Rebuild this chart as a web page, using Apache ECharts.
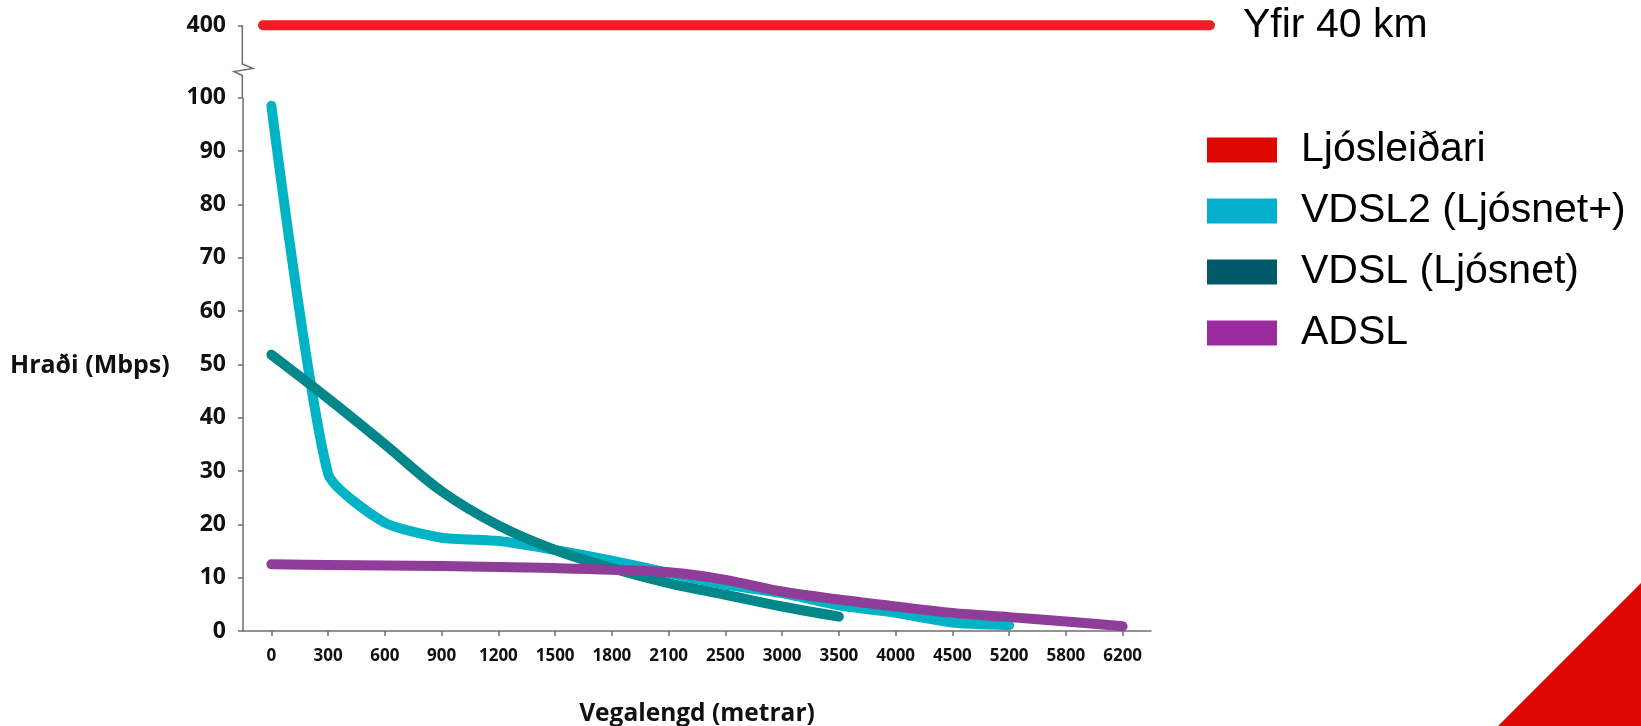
<!DOCTYPE html>
<html>
<head>
<meta charset="utf-8">
<script src="https://cdn.jsdelivr.net/npm/echarts@6/dist/echarts.min.js"></script>
<style>
  html, body { margin: 0; padding: 0; background: #ffffff; }
  #chart { width: 1641px; height: 726px; }
</style>
</head>
<body>
<div id="chart"></div>
<script>
// ---- data ----
const distances = ['0', '300', '600', '900', '1200', '1500', '1800', '2100', '2500', '3000', '3500', '4000', '4500', '5200', '5800', '6200'];
const vdsl2Speed = [98.5, 29.5, 20.3, 17.5, 16.9, 15.2, 13.2, 10.9, 8.7, 7.1, 4.8, 3.4, 1.6, 1.1, null, null];
const vdslSpeed = [51.8, 43.6, 35.0, 26.2, 19.8, 15.2, 11.8, 9.0, 6.8, 4.6, 2.7, null, null, null, null, null];
const adslSpeed = [12.5, 12.4, 12.3, 12.2, 12.0, 11.8, 11.5, 11.0, 9.6, 7.4, 5.9, 4.6, 3.4, 2.6, 1.8, 0.9];
const fiberSpeed = 400;
const fiberReachKm = [0, 40];
const seriesNames = ['Ljósleiðari', 'VDSL2 (Ljósnet+)', 'VDSL (Ljósnet)', 'ADSL'];
const fiberLabel = 'Yfir 40 km';
const yTickBreak = [100, 400];

const legendColors = ['#dd0600', '#03afca', '#005a6a', '#9b2a9f'];
const lineColors = ['#ee1c25', '#00b4c5', '#00878a', '#8e3d98'];
const smoothness = [0, 0.2, 0.35, 0.35];

const chart = echarts.init(document.getElementById('chart'), null, { renderer: 'canvas' });

const axisGray = '#6f6f6f';
const tickFont = 'Open Sans';

function speedAxis(gridIndex, visible) {
  return {
    type: 'value',
    gridIndex: gridIndex,
    show: visible,
    min: 0,
    max: 400,
    interval: 10,
    breaks: [{ start: yTickBreak[0], end: yTickBreak[1], gap: 13.6 }],
    breakArea: { show: false },
    axisLine: { show: true, onZero: false, lineStyle: { color: axisGray, width: 1.5 } },
    axisTick: { show: true, length: 5, lineStyle: { color: axisGray, width: 1.5 } },
    axisLabel: { fontFamily: tickFont, fontWeight: 'bold', fontSize: 23, color: '#111', margin: 17 },
    splitLine: { show: false }
  };
}

function lineSeries(name, data, idx) {
  return {
    name: name,
    type: 'line',
    data: data,
    xAxisIndex: 0,
    yAxisIndex: 0,
    smooth: smoothness[idx],
    showSymbol: false,
    symbol: 'none',
    connectNulls: false,
    itemStyle: { color: legendColors[idx] },
    lineStyle: { color: lineColors[idx], width: 10, cap: 'round', join: 'round' },
    z: 3 + idx
  };
}

const option = {
  animation: false,
  backgroundColor: '#ffffff',
  grid: [
    { left: 243, right: 490, top: 25.3, bottom: 95, containLabel: false, outerBoundsMode: 'none' },
    { left: 243, right: 431, top: 25.3, bottom: 95, containLabel: false, outerBoundsMode: 'none' }
  ],
  xAxis: [
    {
      type: 'category',
      gridIndex: 0,
      data: distances,
      boundaryGap: true,
      name: 'Vegalengd (metrar)',
      nameLocation: 'middle',
      nameGap: 71,
      nameTextStyle: { fontFamily: tickFont, fontWeight: 'bold', fontSize: 24.5, color: '#111' },
      axisLine: { show: true, onZero: false, lineStyle: { color: axisGray, width: 1.5 } },
      axisTick: { show: true, alignWithLabel: true, length: 5, lineStyle: { color: axisGray, width: 1.5 } },
      axisLabel: { fontFamily: tickFont, fontWeight: 'bold', fontSize: 17, color: '#111', margin: 17 },
      splitLine: { show: false }
    },
    {
      type: 'value',
      gridIndex: 1,
      show: false,
      min: -0.845,
      max: 40
    }
  ],
  yAxis: [speedAxis(0, true), speedAxis(1, false)],
  legend: {
    orient: 'vertical',
    left: 1207,
    top: 129,
    padding: 0,
    itemWidth: 70,
    itemHeight: 25,
    itemGap: 19,
    icon: 'rect',
    selectedMode: false,
    textStyle: { fontFamily: 'Liberation Sans', fontSize: 41, color: '#000', lineHeight: 42, padding: [0, 0, 0, 19] },
    data: seriesNames.map((n, i) => ({ name: n, icon: 'rect', itemStyle: { color: legendColors[i] } }))
  },
  series: [
    {
      name: seriesNames[0],
      type: 'line',
      xAxisIndex: 1,
      yAxisIndex: 1,
      clip: false,
      data: fiberReachKm.map(km => [km, fiberSpeed]),
      showSymbol: false,
      symbol: 'none',
      itemStyle: { color: legendColors[0] },
      lineStyle: { color: lineColors[0], width: 10, cap: 'round' },
      endLabel: {
        show: true,
        formatter: fiberLabel,
        distance: 33,
        fontFamily: 'Liberation Sans',
        fontSize: 41,
        color: '#000'
      },
      z: 2
    },
    lineSeries(seriesNames[1], vdsl2Speed, 1),
    lineSeries(seriesNames[2], vdslSpeed, 2),
    lineSeries(seriesNames[3], adslSpeed, 3)
  ],
  graphic: [
    {
      type: 'text',
      left: 10,
      top: 353,
      style: { text: 'Hraði (Mbps)', fontFamily: tickFont, fontWeight: 'bold', fontSize: 25, fill: '#111' }
    },
    {
      type: 'polyline',
      shape: { points: [[242.3, 25.3], [242.3, 64], [253, 68.5], [234, 71.5], [242.3, 75.5], [242.3, 98]] },
      style: { stroke: axisGray, lineWidth: 1.5, fill: null },
      z: 51
    },
    {
      type: 'polygon',
      shape: { points: [[1498, 726], [1641, 583], [1641, 726]] },
      style: { fill: '#dd0600' },
      z: 1
    }
  ]
};

chart.setOption(option);
</script>
</body>
</html>
